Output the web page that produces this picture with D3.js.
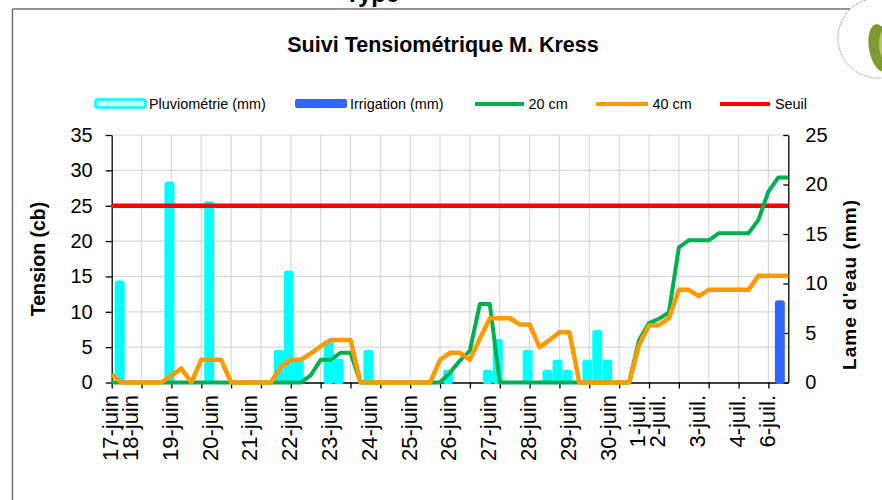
<!DOCTYPE html>
<html><head><meta charset="utf-8">
<script src="https://cdn.jsdelivr.net/npm/d3@7"></script>
<style>body{margin:0;background:#fff}svg{display:block;font-family:Arial,"Liberation Sans",sans-serif}</style>
</head><body><svg id="c" width="882" height="500"></svg>
<script>
// ---------- DATA ----------
const categories = [
  "17-juin","","18-juin","","","","19-juin","","","",
  "20-juin","","","","21-juin","","","","22-juin","",
  "","","23-juin","","","","24-juin","","","",
  "25-juin","","","","26-juin","","","","27-juin","",
  "","","28-juin","","","","29-juin","","","",
  "30-juin","","","1-juil.","","2-juil.","","","","3-juil.",
  "","","","4-juil.","","","6-juil.","",""
];
const tension20 = [
  0,0,0,0,0,0,0,0,0,0,
  0,0,0,0,0,0,0,0,0,0,
  1.0,3.2,3.2,4.2,4.2,0,0,0,0,0,
  0,0,0,0,1.4,3.1,4.5,11.1,11.1,0,
  0,0,0,0,0,0,0,0,0,0,
  0,0,0,6.0,8.4,9.0,9.9,19.1,20.1,20.1,
  20.1,21.1,21.1,21.1,21.1,23.0,27.0,29.0,29.0
];
const tension40 = [
  1.1,0,0,0,0,0,1.0,2.0,0,3.2,
  3.2,3.2,0,0,0,0,0,2.2,3.2,3.2,
  4.1,5.1,6.0,6.0,6.0,0,0,0,0,0,
  0,0,0,3.2,4.2,4.2,3.2,6.2,9.1,9.1,
  9.1,8.2,8.2,5.0,6.0,7.1,7.1,0,0,0,
  0,0,0,5.3,8.1,8.1,9.1,13.1,13.1,12.2,
  13.1,13.1,13.1,13.1,13.1,15.1,15.1,15.1,15.1
];
const seuil = [
  25,25,25,25,25,25,25,25,25,25,
  25,25,25,25,25,25,25,25,25,25,
  25,25,25,25,25,25,25,25,25,25,
  25,25,25,25,25,25,25,25,25,25,
  25,25,25,25,25,25,25,25,25,25,
  25,25,25,25,25,25,25,25,25,25,
  25,25,25,25,25,25,25,25,25
];
const pluvio = [
  0,10.3,0,0,0,0,20.3,0,0,0,
  18.3,0,0,0,0,0,0,3.3,11.3,2.3,
  0,0,4.3,2.4,0,0,3.3,0,0,0,
  0,0,0,0,1.3,0,0,0,1.3,4.4,
  0,0,3.3,0,1.3,2.3,1.3,0,2.3,5.3,
  2.3,0,0,0,0,0,0,0,0,0,
  0,0,0,0,0,0,0,0,0
];
const irrigation = [
  0,0,0,0,0,0,0,0,0,0,
  0,0,0,0,0,0,0,0,0,0,
  0,0,0,0,0,0,0,0,0,0,
  0,0,0,0,0,0,0,0,0,0,
  0,0,0,0,0,0,0,0,0,0,
  0,0,0,0,0,0,0,0,0,0,
  0,0,0,0,0,0,0,8.3,0
];
const leftTicks = [0,5,10,15,20,25,30,35];
const rightTicks = [0,5,10,15,20,25];
const legendNames = ["Pluviométrie (mm)","Irrigation (mm)","20 cm","40 cm","Seuil"];
const titleText = "Suivi Tensiométrique M. Kress";
const leftTitle = "Tension (cb)";
const rightTitle = "Lame d'eau (mm)";

// ---------- LAYOUT ----------
const svg = d3.select("#c");
const m = {left:111.7, right:788.3, top:135, bottom:382.5};
const colors = {p:"#00FFFF", i:"#3366FF", g:"#00B050", o:"#FF9900", s:"#FF0000"};
const idx = d3.range(categories.length);
const x = d3.scalePoint().domain(idx).range([m.left, m.right]);
const yL = d3.scaleLinear().domain([0,35]).range([m.bottom, m.top]);
const yR = d3.scaleLinear().domain([0,25]).range([m.bottom, m.top]);
const bw = x.step();

// frame
svg.append("line").attr("x1",12.5).attr("y1",9).attr("x2",850).attr("y2",9).attr("stroke","#6f6f6f").attr("stroke-width",1.5);
svg.append("line").attr("x1",12.5).attr("y1",9).attr("x2",12.5).attr("y2",500).attr("stroke","#6f6f6f").attr("stroke-width",1.5);
// partial heading cut at top (as in the reference)
svg.append("text").attr("x",345).attr("y",1.5).attr("font-size",24).attr("font-weight","bold").text("Type");
// logo
svg.append("circle").attr("cx",878).attr("cy",38).attr("r",40).attr("fill","#fff").attr("stroke","#888").attr("stroke-width",0.8).attr("stroke-dasharray","2,1");
svg.append("ellipse").attr("cx",880).attr("cy",48).attr("rx",11).attr("ry",24).attr("fill","#7d9a2e").attr("transform","rotate(-10,880,48)");
svg.append("ellipse").attr("cx",884).attr("cy",44).attr("rx",5).attr("ry",14).attr("fill","#b5c96a");

// title
svg.append("text").attr("x",443).attr("y",52).attr("text-anchor","middle").attr("font-size",21.5).attr("font-weight","bold").text(titleText);

// legend
const lg = svg.append("g").attr("font-size",14.4);
lg.append("rect").attr("x",95.5).attr("y",99.5).attr("width",50).attr("height",8).attr("rx",2).attr("fill","#ccffff").attr("stroke",colors.p).attr("stroke-width",2.5);
lg.append("text").attr("x",149).attr("y",108.5).text(legendNames[0]);
lg.append("rect").attr("x",295).attr("y",99).attr("width",52).attr("height",9).attr("rx",2).attr("fill",colors.i);
lg.append("text").attr("x",350).attr("y",108.5).text(legendNames[1]);
[[475,524,colors.g,528.5,legendNames[2]],[596,648,colors.o,652.5,legendNames[3]],[720,770,colors.s,775,legendNames[4]]].forEach(d=>{
  lg.append("line").attr("x1",d[0]).attr("x2",d[1]).attr("y1",104).attr("y2",104).attr("stroke",d[2]).attr("stroke-width",4);
  lg.append("text").attr("x",d[3]).attr("y",108.5).text(d[4]);
});

// gridlines
const grid = svg.append("g").attr("stroke","#d9d9d9").attr("stroke-width",1.2);
grid.selectAll(".h").data(leftTicks.filter(v=>v>0)).join("line")
  .attr("x1",m.left).attr("x2",m.right).attr("y1",d=>yL(d)).attr("y2",d=>yL(d));
const tickIdx = idx.filter(i=>i%3===0);
grid.selectAll(".v").data(tickIdx.filter(i=>i>0)).join("line")
  .attr("x1",d=>x(d)).attr("x2",d=>x(d)).attr("y1",m.top).attr("y2",m.bottom);

// axes
const axL = svg.append("g").attr("transform",`translate(${m.left},0)`)
  .call(d3.axisLeft(yL).tickValues(leftTicks).tickSize(6).tickSizeOuter(0).tickPadding(13));
const axR = svg.append("g").attr("transform",`translate(${m.right},0)`)
  .call(d3.axisRight(yR).tickValues(rightTicks).tickSizeInner(-5).tickSizeOuter(0).tickPadding(17));
const axB = svg.append("g").attr("transform",`translate(0,${m.bottom})`)
  .call(d3.axisBottom(x).tickValues(tickIdx).tickFormat("").tickSize(6).tickSizeOuter(0));
[axL,axR,axB].forEach(a=>{
  a.selectAll("path,line").attr("stroke","#000").attr("stroke-width",1.3);
  a.selectAll("text").attr("font-size",20).attr("fill","#000").attr("font-family","Arial,'Liberation Sans',sans-serif");
});
// x labels
svg.append("g").selectAll("text").data(idx.filter(i=>categories[i]!=="")).join("text")
  .attr("transform",i=>`translate(${x(i)-1.5},395) rotate(-90)`)
  .attr("text-anchor","end").attr("dy","0.36em").attr("font-size",22).text(i=>categories[i]);

// axis titles
svg.append("text").attr("transform","translate(45,259) rotate(-90)").attr("text-anchor","middle")
  .attr("font-size",19.5).attr("font-weight","bold").text(leftTitle);
svg.append("text").attr("transform","translate(856,285) rotate(-90)").attr("text-anchor","middle")
  .attr("font-size",19).attr("font-weight","bold").attr("textLength",170).attr("lengthAdjust","spacing").text(rightTitle);

// bars
const bars = svg.append("g");
bars.selectAll(".p").data(idx.filter(i=>pluvio[i]>0)).join("rect")
  .attr("x",i=>x(i)-2-bw/2).attr("width",bw).attr("y",i=>yR(pluvio[i])).attr("height",i=>yR(0)-yR(pluvio[i])+1.5)
  .attr("rx",2.5).attr("fill",colors.p);
bars.selectAll(".i").data(idx.filter(i=>irrigation[i]>0)).join("rect")
  .attr("x",i=>x(i)+1.5-bw/2).attr("width",bw).attr("y",i=>yR(irrigation[i])).attr("height",i=>yR(0)-yR(irrigation[i])+1.5)
  .attr("rx",3).attr("fill",colors.i);

// lines
const line = d3.line().x((d,i)=>x(i)).y(d=>yL(d));
const lines = svg.append("g").attr("fill","none").attr("stroke-linejoin","round");
lines.append("path").attr("d",line(seuil)).attr("stroke",colors.s).attr("stroke-width",4.5);
lines.append("path").attr("d",line(tension20)).attr("stroke",colors.g).attr("stroke-width",4);
lines.append("path").attr("d",line(tension40)).attr("stroke",colors.o).attr("stroke-width",4.5);
</script></body></html>
